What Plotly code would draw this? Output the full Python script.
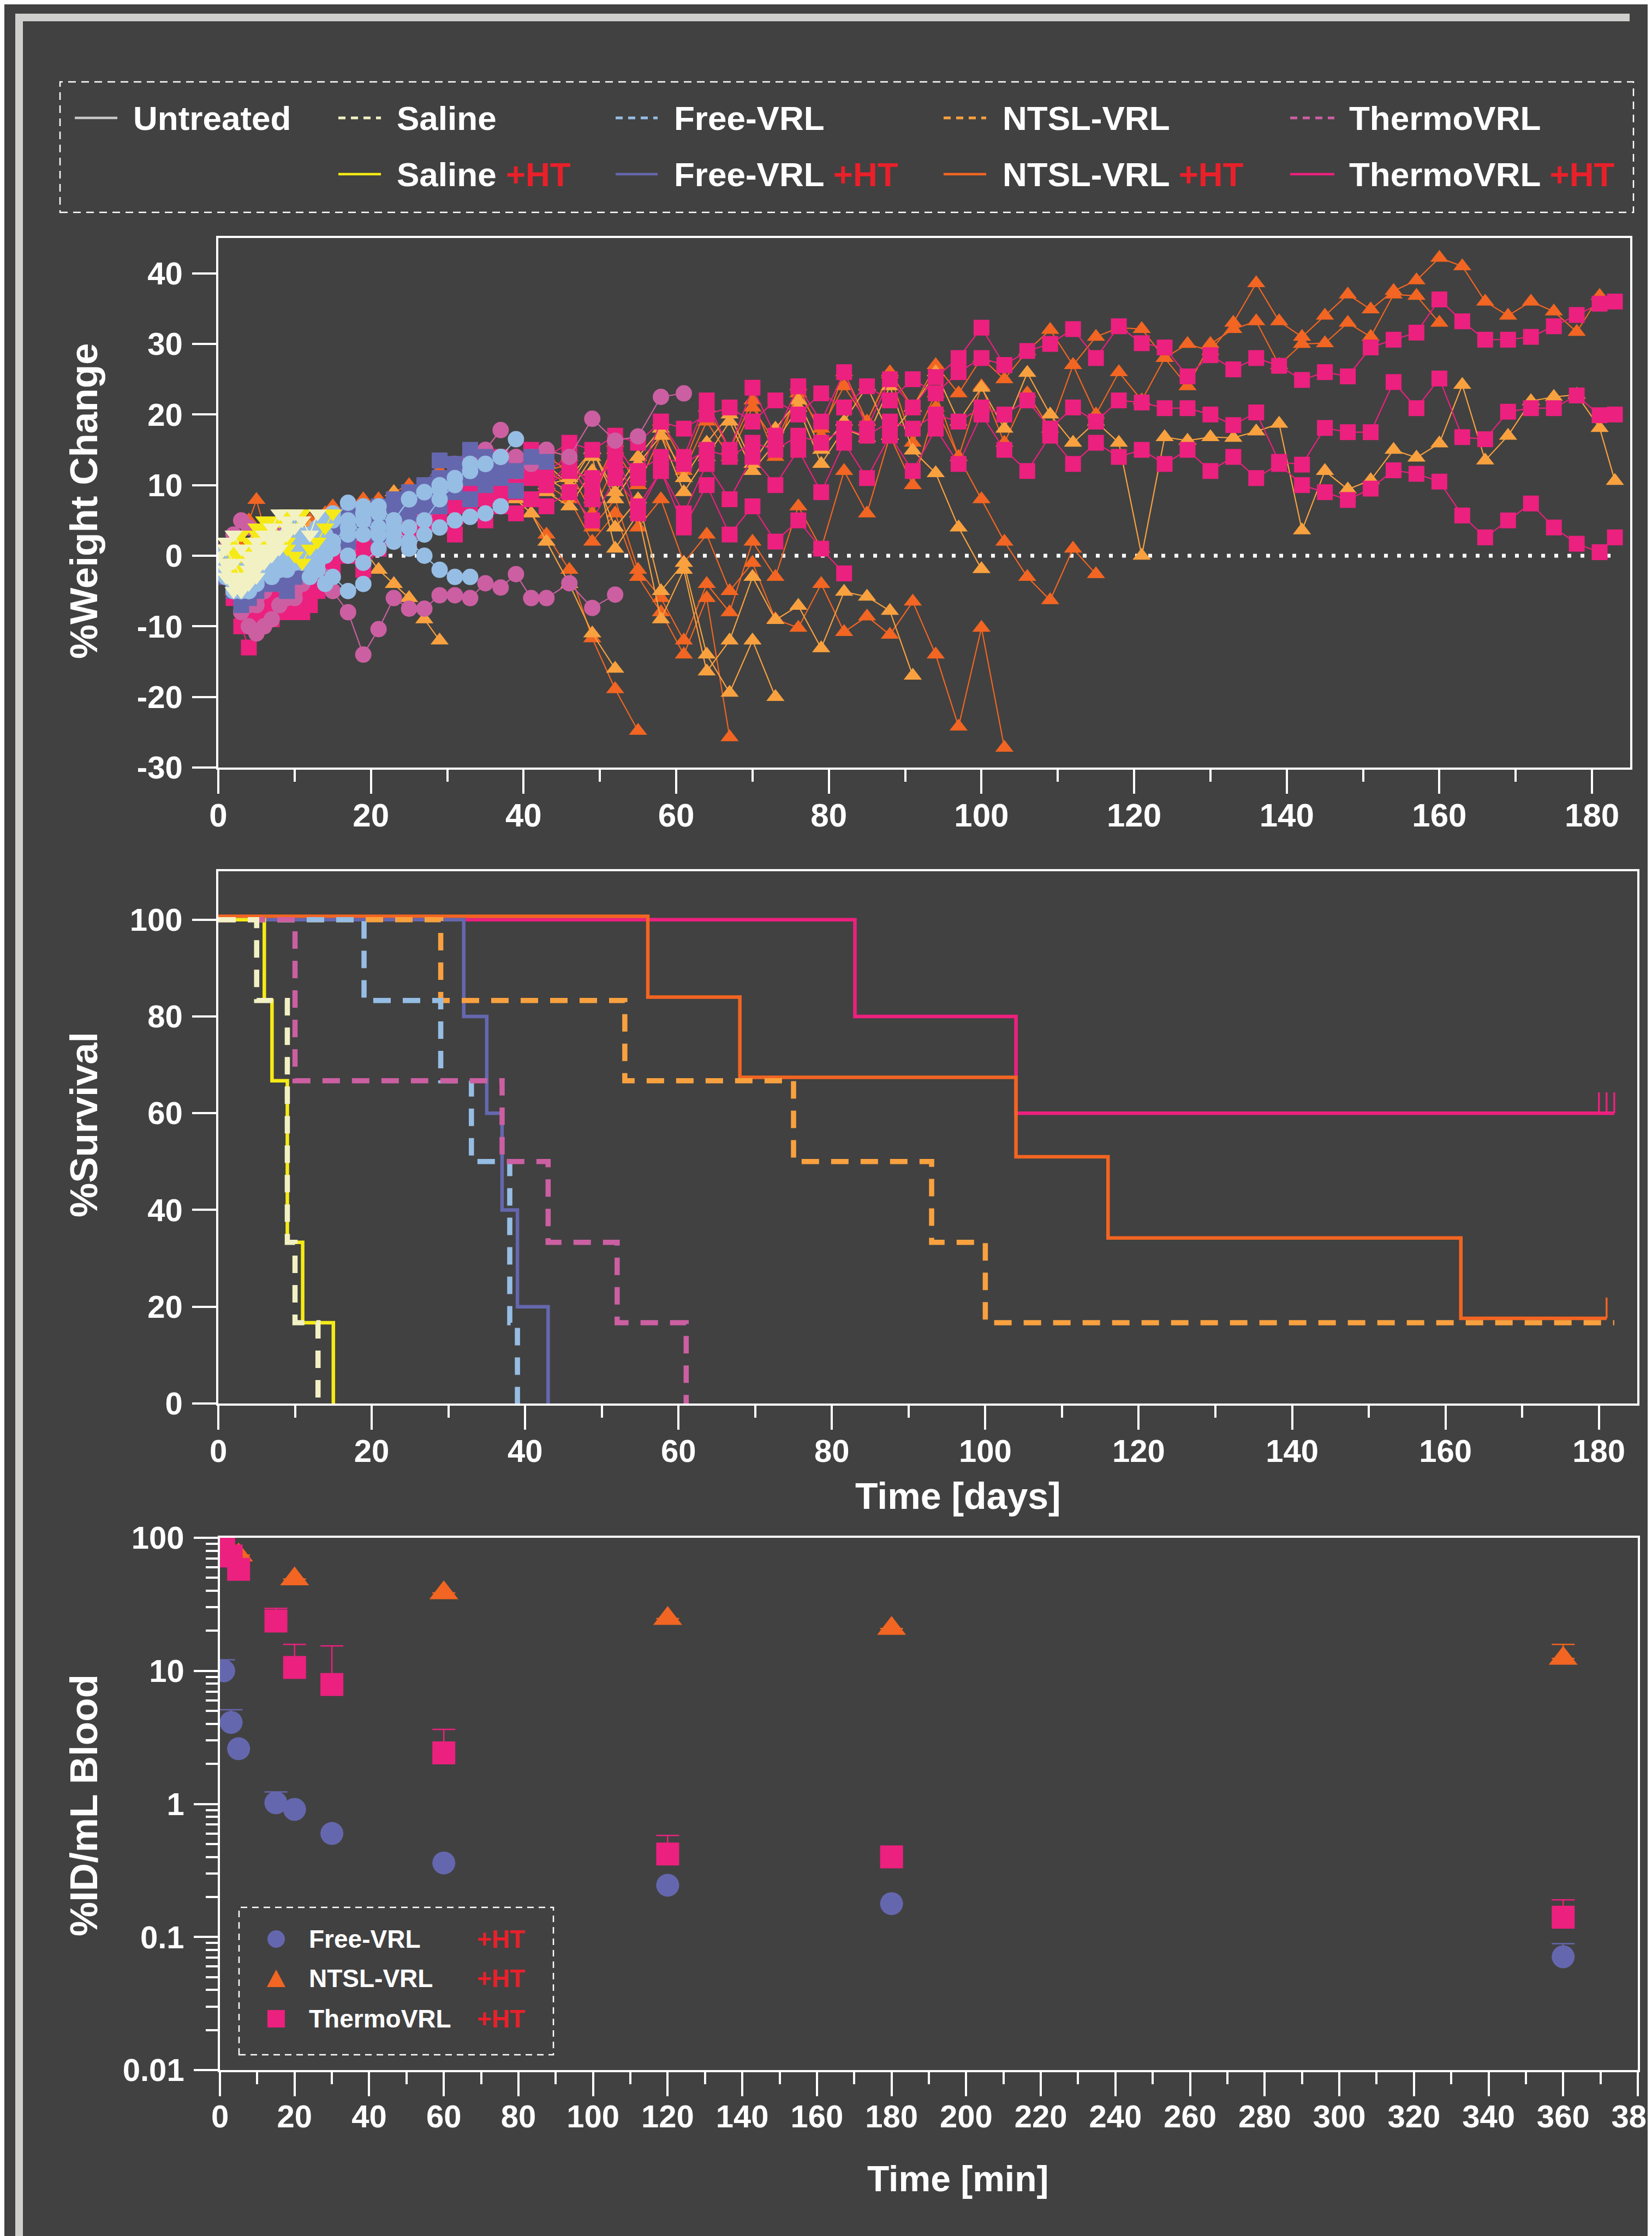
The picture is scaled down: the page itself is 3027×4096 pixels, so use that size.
import plotly.graph_objects as go

# ---------------- figure geometry / style ----------------
W, H = 3027, 4096
FONT = "Liberation Sans, Arial, Helvetica, sans-serif"
BG = "#414141"
FRAME = "#cfcfcd"
RED = "#e8202a"
C_UNTREATED = "#c8c8c8"
C_SAL = "#f2f1c4"
C_SAL_HT = "#f5ea16"
C_FREE = "#96bde4"
C_FREE_HT = "#6567ae"
C_NTSL = "#f9a13f"
C_NTSL_HT = "#f26522"
C_TH = "#cc5fa2"
C_TH_HT = "#ec207e"

# ---------------- weight change data (per mouse, on the measurement days) ----------------
days_w = [0, 1, 2, 3, 4, 5, 6, 7, 8, 9, 10, 11, 12, 13, 14, 15, 17, 19, 21, 23, 25, 27, 29, 31, 33, 35, 37,
          39, 41, 43, 46, 49, 52, 55, 58, 61, 64, 67, 70, 73, 76, 79, 82, 85, 88, 91, 94, 97, 100, 103, 106,
          109, 112, 115, 118, 121, 124, 127, 130, 133, 136, 139, 142, 145, 148, 151, 154, 157, 160, 163, 166,
          169, 172, 175, 178, 181, 183]

saline_w = [
    [0, -2, -4, -3, -1, 2],
    [0, -3, -5, -4, -2, 0, 1, 3, 2, 4],
    [0, 1, -1, -3, -2, 1, 3, 4, 6, 5],
    [0, -1, -3, -5, -4, -3, -1, 0, 2, 3],
    [0, 2, 3, 1, 0, -2, -1, 1, 3, 5, 6],
    [0, -2, -4, -5, -3, -1, 0, 2, 1, 3, 4, 5, 3, 6],
]
saline_ht_w = [
    [0, 1, -1, 0, 2, 1, 0],
    [0, -1, 1, 3, 2, 4, 5, 3],
    [0, 2, 0, -2, -1, 1, 3, 4, 5, 4],
    [0, -1, -2, 0, 1, 2, 4, 5, 3, 2],
    [0, 1, 2, 1, -1, 0, 2, 3, 5, 6, 4, 6],
    [0, -1, 0, 1, 2, 3, 4, 3, 2, 1, 0, -1, 1, 2, 4, 6],
]
free_w = [
    [0, -3, -5, -4, -3, -2, -1, -3, -2, 0, 1, -1, -3, -2, -4, -3, -5, -4],
    [0, -2, -4, -5, -3, -2, 0, 1, -1, -2, 0, 2, 3, 1, 0, 2, 4, 6, 7, 5, 8, 9, 9.5],
    [0, -1, -3, -4, -5, -4, -2, -1, 0, 1, 2, 0, -1, 1, 3, 5, 7.5, 7, 6, 4, 2, 0, -2, -3, -3],
    [0, -2, -3, -5, -4, -3, -1, 0, 1, 0, -1, 1, 2, 3, 2, 1, 0, -1, 1, 3, 4, 5, 8, 10, 13, 13, 14],
    [0, -3, -4, -2, -1, 0, 1, -1, -2, 0, 1, 3, 2, 4, 5, 6, 5, 3, 4, 2, 1, 3, 4, 5, 5.5, 6, 7],
    [0, -1, -2, -4, -5, -3, -2, 0, 2, 3, 4, 2, 0, -1, 0, 2, 3, 5, 3, 5, 8, 9, 10, 11, 12, 13, 14, 16.5],
]
free_ht_w = [
    [0, -2, -4, -5, -6, -4, -3, -2, -4, -5, -3, -2, -1, 0, 1, 2, 3, 4, 6.5, 5, 7, 9.8, 13.5, 12],
    [0, -1, -3, -4, -2, -1, 0, -2, -3, -1, 0, 1, 2, 3, 2, 4, 5, 6.5, 5, 4, 6, 8, 10, 13, 15, 14],
    [0, -3, -5, -7, -6, -5, -4, -2, -1, 0, 1, 0, 2, 3, 4, 3, 2, 4, 3, 5, 6, 7, 9, 10, 11, 12, 13],
    [0, -2, -3, -4, -5, -3, -2, -1, 0, 1, 2, 1, 0, 2, 3, 5, 4, 6, 5, 7, 6, 8, 7, 9, 8, 10, 11, 9.2],
    [0, -1, -2, -3, -2, -1, 0, 1, 0, -1, 1, 2, 3, 2, 4, 5, 6, 5, 7, 8, 9, 10, 11, 10, 12, 11, 13, 12, 14, 13.3],
]
thermo_w = [
    [0, -2, -5, -8, -10, -11, -10, -9, -7, -6, -5],
    [0, 1, 3, 5, 4, 2, 0, -1, -3, -4, -2],
    [0, -1, -3, -4, -6, -7, -5, -4, -3, -2, -1, 0, 1, 3, 2, 4, 5, 3, 6, 5, 8, 9, 11, 13, 14, 15, 17.8],
    [0, -2, -4, -5, -7, -6, -5, -3, -2, 0, 1, -1, 0, 2, 3, 2, 1, 3, 4, 2, 5, 7, 9, 10, 12, 14, 13, 12, 14, 15],
    [0, -1, -3, -5, -6, -4, -3, -2, -4, -5, -6, -4, -3, -2, -3, -5, -8, -14, -10.4, -6, -7.5, -7.5, -5.6,
     -5.6, -6, -3.9, -4.5, -2.6, -6, -6, -3.9, -7.4, -5.5],
    [0, -1, -2, -4, -3, -2, 0, 2, 3, 1, -1, 0, 2, 4, 5, 3, 2, 4, 6, 7, 8, 6, 9, 10, 12, 13, 12, 14, 13, 15,
     14, 19.4, 16.3, 16.9, 22.5, 23],
]
ntsl_w = [
    [0, -1, -2, -1, 0, 1, 2, 1, 0, 2, 3, 1, 0, -1, 1, 2, 3, 1, -2, -4, -6, -9, -12],
    [0, -2, -3, -4, -3, -1, 0, 1, 2, 1, 0, 2, 3, 4, 3, 5, 4, 6, 5, 7, 6, 8, 9, 10, 11, 9, 10, 8, 6, 2,
     -4, -11, -16],
    [0, 1, -1, -2, -1, 0, 1, 2, 3, 2, 1, 3, 4, 3, 5, 4, 6, 5, 7, 8, 9, 10, 11, 10, 12, 11, 10, 12, 11, 9,
     7, 12, 4, 8, -5, -1, -14, -19.4, -12, -20],
    [0, -1, -3, -2, -1, 0, 2, 1, 0, 1, 2, 3, 2, 4, 5, 6, 5, 7, 6, 8, 9, 10, 9, 11, 12, 10, 11, 12, 13, 11,
     9, 14, 1, 6, -9, -2, -16.4, -12, -3, -9.1, -7.1, -13.1, -5.1, -5.8, -7.8, -17],
    [0, -2, -1, 0, 1, 2, 1, 0, -1, 1, 2, 1, 3, 4, 3, 5, 6, 5, 7, 9, 8, 10, 11, 12, 10, 12, 13, 11, 12, 10,
     11, 15, 8, 13, 17, 9, 14, 19, 12, 16, 21, 13, 18, 16.7, 24, 14.9, 11.7, 4, -1.9],
    [0, -1, -2, -3, -2, -1, 0, 1, 2, 3, 2, 1, 3, 4, 5, 4, 5, 6, 4, 7, 8, 9, 8, 10, 11, 12, 10, 11, 12, 13,
     10, 15, 9, 14, 18, 11, 16, 20, 13, 18, 22, 15, 19, 24, 17, 21, 26, 19, 23.8, 18,
     25.9, 20, 16, 19, 16, 0, 16.8, 16.3, 16.8, 16.7, 17.6, 18.7, 3.6, 12, 9.4, 10.7, 15, 13.9, 15.9, 24.2,
     13.5, 17, 21.9, 22.5, 22.8, 18.1, 10.6],
]
ntsl_ht_w = [
    [0, -2, -1, 2, 5, 7.9, 4, 2, 1, 3, 2, 4, 5, 3, 4, 6, 5, 7, 6, 8, 9, 7, 8, 10, 9, 11, 10, 8, 6, 3,
     -2, -11.7, -18.9, -24.8],
    [0, -1, -3, -4, -2, -1, 0, 1, 3, 2, 1, 2, 4, 3, 5, 4, 6, 5, 7, 9, 8, 10, 11, 9, 10, 12, 11, 13, 12, 10,
     8, 2, 6, -3, -8, -14, -6, -25.7],
    [0, -2, -3, -2, 0, 1, 2, 3, 2, 1, 3, 4, 3, 5, 6, 5, 7, 6, 8, 7, 9, 10, 12, 11, 13, 12, 11, 13, 12, 14,
     12, 6, 13, 4, 8, -1, 3, -5, -1, -9, -10.2, -4, -10.8, -8.6, -11.2, -6.5, -14, -24.2, -10.2, -27.2],
    [0, -1, -2, -1, 1, 2, 1, 0, 2, 3, 4, 3, 5, 4, 6, 7, 6, 8, 7, 9, 10, 9, 11, 12, 11, 13, 12, 14, 13, 15,
     14, 9, 16, 11, 19, 13, 21, 15, 22, 14, 24, 17, 26, 19, 25.7, 16, 23, 14, 8, 2, -3, -6.3, 1, -2.6],
    [0, -3, -5, -4, -2, -1, 0, 1, 0, 2, 3, 2, 1, 3, 4, 3, 5, 4, 6, 8, 7, 9, 10, 9, 11, 10, 12, 11, 13, 12,
     10, 4, 8, -2, -6, -12, -4, -8, 2, -3, 7, 1, 12, 6, 17, 10, 21, 14, 24, 16, 23, 18, 27, 20, 26, 22, 28,
     24, 30, 32.1, 33.2, 27, 30, 30.1, 33, 31, 37, 36.8, 33],
    [0, -1, -2, -4, -3, -2, -1, 0, 1, 2, 1, 3, 4, 2, 3, 5, 4, 6, 5, 7, 8, 10, 9, 11, 10, 12, 11, 13, 14, 12,
     13, 8, 15, 10, 17, 12, 19, 14, 21, 16, 23, 18, 24, 19, 26, 21, 27, 23, 28, 25, 29, 32, 27, 31, 32.3,
     32.1, 28, 30, 29, 33, 38.6, 33.2, 31, 34, 37, 34.9, 37.5, 39, 42.2, 41, 36, 34, 36, 34.6, 31.7, 36.8],
]
thermo_ht_w = [
    [0, -3, -6, -10, -13, -10, -8, -9, -7, -5, -6, -4, -2, -3, -1, 0, 2, 1, 3, 5, 4, 6, 8, 7, 9, 10, 12, 11,
     13, 12, 14, 9, 15, 6, 12, 4, 10, 3, 7, 2, 5, 1, -2.5],
    [0, -2, -4, -5, -7, -6, -5, -7, -8, -6, -5, -8, -7, -5, -3, -2, 0, 2, 1, 3, 5, 4, 6, 8, 7, 10, 9, 11, 12,
     10, 13, 8, 16, 11, 19, 14, 22, 15, 23.8, 17, 24, 19, 26, 18, 25, 21, 25.3, 28, 32.3, 27],
    [0, -1, -3, -5, -6, -7, -5, -4, -6, -8, -7, -5, -4, -2, -1, 1, 3, 2, 5, 6, 4, 7, 9, 10, 8, 12, 14, 13,
     15, 14, 16, 15, 17, 16, 19, 18, 20, 21, 19, 22, 20, 23, 21, 24, 22, 25, 23, 26, 28, 27, 29, 30, 32.1,
     28, 32.5, 30.1, 29.5, 25.4, 28.4, 26.4, 28, 26.9, 24.9, 26, 25.4, 29.5, 30.6, 31.6, 36.3, 33.2, 30.6,
     30.6, 31, 32.5, 34.1, 35.7, 36],
    [0, -2, -4, -6, -8, -7, -6, -5, -3, -4, -2, -1, 0, 2, 1, 3, 4, 3, 6, 5, 7, 6, 8, 7, 9, 8, 10, 9, 11, 10,
     12, 11, 13, 12, 14, 13, 15, 14, 16, 15, 17, 16, 18, 17, 19, 18, 20, 19, 21, 20, 22, 18, 21, 19, 22,
     21.7, 20.9, 20.9, 20, 18.5, 20.3, 13.3, 12.9, 18.1, 17.5, 17.5, 24.6, 20.9, 25.1, 16.8, 16.5, 20.4,
     20.9, 20.9, 22.7, 19.9, 20],
    [0, -1, -2, -3, -5, -4, -3, -6, -8, -7, -6, -4, -2, 0, 2, 1, 0, -2, 1, 3, 2, 4, 5, 3, 6, 5, 7, 6, 8, 7,
     9, 5, 11, 7, 12, 6, 13, 8, 14, 10, 15, 9, 16, 11, 17, 12, 18, 13, 20, 15, 12, 17, 13, 16, 14, 15, 13,
     15, 12, 14, 11, 13, 10, 9, 7.9, 9.5, 12.1, 11.6, 10.5, 5.7, 2.6, 5, 7.4, 4, 1.7, 0.5, 2.6],
]

# ---------------- survival data (Kaplan-Meier steps) ----------------
surv_sal_t = [0, 5, 9, 10, 13]
surv_sal_v = [100, 83.3, 33.3, 16.7, 0]
surv_salht_t = [0, 6, 7, 9, 11, 15]
surv_salht_v = [100, 83.3, 66.7, 33.3, 16.7, 0]
surv_free_t = [0, 19, 29, 33, 38, 39]
surv_free_v = [100, 83.3, 66.7, 50, 16.7, 0]
surv_freeht_t = [0, 32, 35, 37, 39, 43]
surv_freeht_v = [100, 80, 60, 40, 20, 0]
surv_th_t = [0, 10, 37, 43, 52, 61]
surv_th_v = [100, 66.7, 50, 33.3, 16.7, 0]
surv_ntsl_t = [0, 29, 53, 75, 93, 100, 182]
surv_ntsl_v = [100, 83.3, 66.7, 50, 33.3, 16.7, 16.7]
surv_ntslht_t = [0, 56, 68, 104, 116, 162, 181]
surv_ntslht_v = [100.7, 84, 67.4, 51, 34.2, 17.6, 17.6]
surv_thht_t = [0, 83, 104, 182]
surv_thht_v = [100, 80, 60, 60]
censor_ntslht_t = [181]
censor_ntslht_v = [17.6]
censor_thht_t = [180, 181, 182]
censor_thht_v = [60, 60, 60]

# ---------------- blood PK data ----------------
pk_time = [1, 3, 5, 15, 20, 30, 60, 120, 180, 360]
pk_free = [10.0, 4.1, 2.6, 1.02, 0.91, 0.60, 0.36, 0.245, 0.178, 0.071]
pk_free_hi = [12.1, 5.1, 2.6, 1.23, 0.91, 0.60, 0.36, 0.245, 0.178, 0.089]
pk_thermo = [85, 73, 58, 23.7, 10.6, 7.9, 2.42, 0.42, 0.40, 0.141]
pk_thermo_hi = [85, 73, 58, 29.5, 15.8, 15.4, 3.63, 0.58, 0.40, 0.19]
pk_ntsl_time = [1, 5, 20, 60, 120, 180, 360]
pk_ntsl = [85, 74, 49, 38.5, 24.7, 20.8, 12.4]
pk_ntsl_hi = [85, 74, 49, 38.5, 24.7, 20.8, 15.8]

x_ticks_days = [0, 20, 40, 60, 80, 100, 120, 140, 160, 180]
y_ticks_weight = [-30, -20, -10, 0, 10, 20, 30, 40]
y_ticklabels_weight = ["-30", "-20", "-10", "0", "10", "20", "30", "40"]
y_ticks_surv = [0, 20, 40, 60, 80, 100]
x_ticks_min = list(range(0, 381, 20))
y_ticks_pk = [0.01, 0.1, 1, 10, 100]
y_ticklabels_pk = ["0.01", "0.1", "1", "10", "100"]


def X(p):
    return p / W


def Y(p):
    return 1 - p / H


fig = go.Figure()

# ---- panel 1: weight change ----
weight_groups = [
    (ntsl_ht_w, C_NTSL_HT, "triangle-up", 29),
    (ntsl_w, C_NTSL, "triangle-up", 29),
    (thermo_ht_w, C_TH_HT, "square", 29),
    (thermo_w, C_TH, "circle", 30),
    (free_ht_w, C_FREE_HT, "square", 29),
    (free_w, C_FREE, "circle", 30),
    (saline_ht_w, C_SAL_HT, "triangle-down", 29),
    (saline_w, C_SAL, "triangle-down", 29),
]
for mice, color, sym, size in weight_groups:
    for vals in mice:
        fig.add_trace(go.Scatter(
            x=days_w[:len(vals)], y=vals, mode="lines+markers",
            line=dict(color=color, width=2.2),
            marker=dict(symbol=sym, size=size, color=color, line=dict(width=0)),
            xaxis="x", yaxis="y", showlegend=False, hoverinfo="skip"))

# ---- panel 2: survival ----
DASH = "32px,22px"
surv_traces = [
    (surv_thht_t, surv_thht_v, C_TH_HT, "solid", 6.5),
    (surv_ntslht_t, surv_ntslht_v, C_NTSL_HT, "solid", 6.5),
    (surv_freeht_t, surv_freeht_v, C_FREE_HT, "solid", 6.5),
    (surv_salht_t, surv_salht_v, C_SAL_HT, "solid", 6.5),
    (surv_ntsl_t, surv_ntsl_v, C_NTSL, DASH, 9.5),
    (surv_free_t, surv_free_v, C_FREE, DASH, 9.5),
    (surv_th_t, surv_th_v, C_TH, DASH, 9.5),
    (surv_sal_t, surv_sal_v, C_SAL, DASH, 9.5),
]
for t, v, c, d, w in surv_traces:
    fig.add_trace(go.Scatter(x=t, y=v, mode="lines",
                             line=dict(shape="hv", color=c, width=w, dash=d),
                             xaxis="x2", yaxis="y2", showlegend=False, hoverinfo="skip"))
CENSOR_H = 4.3
for ts, vs, c in [(censor_thht_t, censor_thht_v, C_TH_HT), (censor_ntslht_t, censor_ntslht_v, C_NTSL_HT)]:
    for t, v in zip(ts, vs):
        fig.add_trace(go.Scatter(x=[t, t], y=[v, v + CENSOR_H], mode="lines",
                                 line=dict(color=c, width=3.5),
                                 xaxis="x2", yaxis="y2", showlegend=False, hoverinfo="skip"))


# ---- panel 3: PK ----
def err_up(vals, hi):
    return [h - v for v, h in zip(vals, hi)]


pk_traces = [
    (pk_time, pk_free, pk_free_hi, C_FREE_HT, "circle", 42),
    (pk_ntsl_time, pk_ntsl, pk_ntsl_hi, C_NTSL_HT, "triangle-up", 46),
    (pk_time, pk_thermo, pk_thermo_hi, C_TH_HT, "square", 42),
]
for t, v, hi, c, sym, size in pk_traces:
    fig.add_trace(go.Scatter(
        x=t, y=v, mode="markers",
        marker=dict(symbol=sym, size=size, color=c, line=dict(width=0)),
        error_y=dict(type="data", symmetric=False, array=err_up(v, hi),
                     arrayminus=[0] * len(v), color=c, thickness=2.5, width=21),
        xaxis="x3", yaxis="y3", showlegend=False, hoverinfo="skip"))


# ---------------- axes ----------------
def tfont(size, color="white"):
    return dict(family=FONT, size=size, color=color, weight="bold")


common = dict(showline=True, linecolor="white", linewidth=3.5, mirror=True,
              ticks="outside", ticklen=44, tickwidth=3.5, tickcolor="white",
              showgrid=False, zeroline=False, automargin=False, ticklabeloverflow="allow")
minor_lin = dict(dtick=10, tick0=0, ticks="outside", ticklen=22, tickwidth=3.5,
                 tickcolor="white", showgrid=False)

fig.update_layout(
    width=W, height=H, autosize=False, template="none",
    margin=dict(l=0, r=0, t=0, b=0, pad=0),
    paper_bgcolor=BG, plot_bgcolor=BG,
    font=dict(family=FONT, color="white", weight="bold"),
    showlegend=False,
    xaxis=dict(domain=[X(392), X(2979)], range=[0, 185], tickvals=x_ticks_days,
               tickfont=tfont(60), minor=minor_lin, anchor="y", ticklabelstandoff=-12, **common),
    yaxis=dict(domain=[Y(1398), Y(428)], range=[-30, 45], tickvals=y_ticks_weight,
               ticktext=y_ticklabels_weight, tickfont=tfont(58), anchor="x", ticklabelstandoff=6, **common),
    xaxis2=dict(domain=[X(392), X(2992)], range=[0, 185], tickvals=x_ticks_days,
                tickfont=tfont(58), minor=minor_lin, anchor="y2", ticklabelstandoff=-10, **common),
    yaxis2=dict(domain=[Y(2563), Y(1588)], range=[0, 110], tickvals=y_ticks_surv,
                tickfont=tfont(58), anchor="x2", ticklabelstandoff=6, **common),
    xaxis3=dict(domain=[X(395), X(2993)], range=[0, 380], tickvals=x_ticks_min,
                tickfont=tfont(58), minor=minor_lin, anchor="y3", ticklabelstandoff=-12, **common),
    yaxis3=dict(domain=[Y(3784), Y(2809)], type="log", range=[-2, 2], tickvals=y_ticks_pk,
                ticktext=y_ticklabels_pk, tickfont=tfont(58), anchor="x3", ticklabelstandoff=6,
                minor=dict(dtick="D1", ticks="outside", ticklen=22, tickwidth=3.5,
                           tickcolor="white", showgrid=False),
                **common),
)

shapes = []
annotations = []

# frame (partial light border)
shapes.append(dict(type="rect", xref="paper", yref="paper", x0=X(20), x1=X(2978), y0=Y(31), y1=Y(17),
                   fillcolor=FRAME, line=dict(width=0), layer="below"))
shapes.append(dict(type="rect", xref="paper", yref="paper", x0=X(20), x1=X(34), y0=Y(H), y1=Y(17),
                   fillcolor=FRAME, line=dict(width=0), layer="below"))

# zero reference line in weight panel
shapes.append(dict(type="line", xref="x", yref="y", x0=0, x1=183, y0=0, y1=0,
                   line=dict(color="white", width=7, dash="7px,17px"), layer="below"))

# ---- top legend ----
shapes.append(dict(type="rect", xref="paper", yref="paper", x0=X(102), x1=X(2985), y0=Y(381), y1=Y(142),
                   line=dict(color="white", width=2.5, dash="14px,10px"), fillcolor="rgba(0,0,0,0)"))
rows = [208, 311]
cols = [(129, 207, 234), (612, 690, 717), (1120, 1197, 1225), (1721, 1799, 1827), (2356, 2437, 2462)]
ht = " <span style='color:%s'>+HT</span>" % RED
legend_items = [
    (0, 0, "Untreated", C_UNTREATED, "solid"),
    (1, 0, "Saline", C_SAL, "dash"),
    (1, 1, "Saline" + ht, C_SAL_HT, "solid"),
    (2, 0, "Free-VRL", C_FREE, "dash"),
    (2, 1, "Free-VRL" + ht, C_FREE_HT, "solid"),
    (3, 0, "NTSL-VRL", C_NTSL, "dash"),
    (3, 1, "NTSL-VRL" + ht, C_NTSL_HT, "solid"),
    (4, 0, "ThermoVRL", C_TH, "dash"),
    (4, 1, "ThermoVRL" + ht, C_TH_HT, "solid"),
]
for ci, ri, txt, col, sty in legend_items:
    x0, x1, xt = cols[ci]
    yy = rows[ri]
    if sty == "solid":
        ln = dict(color=col, width=4.5)
    else:
        ln = dict(color=col, width=5, dash="13px,10px")
    shapes.append(dict(type="line", xref="paper", yref="paper", x0=X(x0), x1=X(x1), y0=Y(yy), y1=Y(yy), line=ln))
    annotations.append(dict(text=txt, xref="paper", yref="paper", x=X(xt), y=Y(yy), xanchor="left",
                            yanchor="middle", showarrow=False, font=tfont(62)))

# ---- PK legend ----
shapes.append(dict(type="rect", xref="paper", yref="paper", x0=X(430), x1=X(1006), y0=Y(3756), y1=Y(3486),
                   line=dict(color="white", width=2.5, dash="12px,9px"), fillcolor="rgba(0,0,0,0)"))
mx = 498
shapes.append(dict(type="circle", xref="paper", yref="paper", x0=X(mx - 16), x1=X(mx + 16),
                   y0=Y(3544 + 16), y1=Y(3544 - 16), fillcolor=C_FREE_HT, line=dict(width=0)))
shapes.append(dict(type="path", xref="paper", yref="paper",
                   path="M %f,%f L %f,%f L %f,%f Z" % (X(mx - 17), Y(3632), X(mx + 17), Y(3632), X(mx), Y(3600)),
                   fillcolor=C_NTSL_HT, line=dict(width=0)))
shapes.append(dict(type="rect", xref="paper", yref="paper", x0=X(mx - 16), x1=X(mx + 16),
                   y0=Y(3690 + 16), y1=Y(3690 - 16), fillcolor=C_TH_HT, line=dict(width=0)))
for yy, name in [(3544, "Free-VRL"), (3616, "NTSL-VRL"), (3690, "ThermoVRL")]:
    annotations.append(dict(text=name, xref="paper", yref="paper", x=X(556), y=Y(yy), xanchor="left",
                            yanchor="middle", showarrow=False, font=tfont(46)))
    annotations.append(dict(text="+HT", xref="paper", yref="paper", x=X(864), y=Y(yy), xanchor="left",
                            yanchor="middle", showarrow=False, font=tfont(46, RED)))

# ---- axis titles ----
for txt, yy in [("%Weight Change", 910), ("%Survival", 2053), ("%ID/mL Blood", 3299)]:
    annotations.append(dict(text=txt, xref="paper", yref="paper", x=X(145), y=Y(yy), xanchor="center",
                            yanchor="middle", textangle=-90, showarrow=False, font=tfont(71)))
annotations.append(dict(text="Time [days]", xref="paper", yref="paper", x=X(1747), y=Y(2732),
                        xanchor="center", yanchor="middle", showarrow=False, font=tfont(68)))
annotations.append(dict(text="Time [min]", xref="paper", yref="paper", x=X(1747), y=Y(3983),
                        xanchor="center", yanchor="middle", showarrow=False, font=tfont(66)))

fig.update_layout(shapes=shapes, annotations=annotations)
fig.write_html("out.html")
